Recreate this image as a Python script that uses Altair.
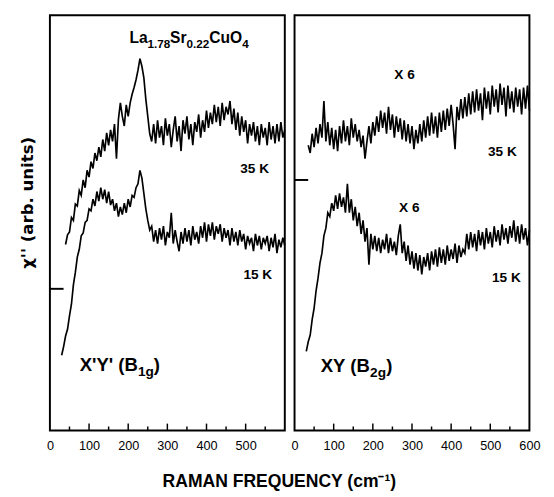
import altair as alt
import pandas as pd

# ---------------- data (arb. units) ----------------
STEP = 5  # cm^-1 sampling of the traced spectra

# X'Y' (B1g) panel
L35_START = 40
L35 = [193, 203, 206, 221, 218, 235, 233, 249, 244, 260, 252, 270, 263,
       279, 272, 288, 280, 294, 284, 302, 290, 309, 296, 312, 300, 318, 282, 323, 340, 326, 316, 338, 326,
       340, 349, 356, 364, 374, 386, 378, 366, 344, 326, 308, 300,
       318, 298, 322, 304, 316, 296, 324, 306, 318, 294, 312, 326, 300, 316, 290, 322, 308, 326, 302, 318,
       296, 320, 310, 328, 304, 322, 310, 332, 314, 330, 318, 338, 320, 336, 316, 340, 322, 336, 328, 342,
       318, 334, 312, 330, 306, 326, 310, 322, 298, 318, 306, 320, 300, 316, 296, 318, 304, 314, 296, 320,
       302, 316, 298, 318, 300, 320, 304, 312]
L15_START = 30
L15 = [78, 87, 98, 105, 119, 131, 151, 164, 180, 188, 202, 205, 216, 218, 230,
       228, 240, 233, 248, 238, 252, 240, 250, 236, 248, 234, 240, 228, 236, 222, 232, 224, 236, 226, 240,
       232, 244, 242, 252, 256, 270,
       262, 246, 230, 218, 208, 212,
       196, 208, 194, 210, 198, 212, 192, 206, 200, 226, 194, 208, 196, 186, 206, 194, 210, 196, 208, 192,
       212, 198, 206, 194, 212, 200, 216, 196, 214, 202, 216, 198, 212, 204, 214, 196, 210, 200, 208, 192,
       210, 196, 206, 192, 208, 196, 204, 188, 202, 194, 200, 186, 204, 192, 202, 188, 200, 194, 202, 186,
       200, 190, 204, 184, 198, 190, 200, 192]

# XY (B2g) panel (x 6)
R35_START = 35
R35 = [296, 288, 308, 294, 314, 298, 318, 304, 342, 300, 320, 296, 314, 292,
       312, 290, 316, 298, 322, 300, 316, 296, 324, 304, 318, 300, 312, 294, 306, 282, 300, 316, 298, 320,
       306, 326, 310, 332, 314, 330, 308, 336, 312, 328, 304, 326, 310, 324, 302, 322, 300, 318, 298, 316,
       292, 312, 298, 318, 300, 322, 304, 326, 306, 330, 308, 326, 304, 330, 310, 332, 312, 334, 316, 338,
       318, 292, 336, 322, 344, 324, 346, 326, 350, 328, 352, 330, 354, 332, 350, 322, 356, 334, 352, 328,
       358, 336, 354, 330, 360, 338, 356, 326, 358, 334, 352, 330, 356, 336, 354, 328, 356, 334, 358, 332]
R15_START = 30
R15 = [82, 92, 99, 115, 127, 145, 158, 174, 184, 202, 210, 226, 222, 236, 228,
       244, 230, 246, 232, 242, 226, 256, 226, 240, 218, 232, 212, 226, 204, 218, 196, 210, 172, 204, 188,
       202, 186, 200, 184, 198, 188, 204, 184, 200, 186, 196, 182, 202, 214, 184, 196, 176, 192, 172, 186,
       168, 184, 166, 182, 162, 180, 170, 184, 166, 186, 172, 188, 170, 190, 174, 188, 172, 192, 176, 188,
       178, 194, 174, 192, 180, 188, 184, 204, 188, 206, 190, 204, 186, 208, 192, 206, 188, 210, 194, 206,
       190, 212, 196, 208, 192, 214, 198, 210, 194, 212, 200, 218, 196, 212, 194, 214, 198, 210, 192, 208]

# axis tick values
LEFT_LABELS = [0, 100, 200, 300, 400, 500]
RIGHT_LABELS = [0, 100, 200, 300, 400, 500, 600]
MAJOR_TICKS = [100, 200, 300, 400, 500]
MINOR_TICKS = [50, 150, 250, 350, 450, 550]

# zero markers on the left edges
LEFT_ZERO = [147]
RIGHT_ZERO = [260]

# annotation pieces (text, frequency, level, font size)
LEFT_PIECES = [
    ("La", 203, 402, 16), ("1.78", 249, 397, 12), ("Sr", 307, 402, 16),
    ("0.22", 349, 397, 12), ("CuO", 407, 402, 16), ("4", 491, 397, 12),
    ("X'Y' (B", 76, 62, 19), ("1g", 225, 56, 14), (")", 265, 62, 19),
]
RIGHT_PIECES = [
    ("XY (B", 67, 61, 19), ("2g", 193, 55, 14), (")", 234, 61, 19),
]
LEFT_LABELS_TXT = [("35 K", 523, 271), ("15 K", 531, 161)]
RIGHT_LABELS_TXT = [("X 6", 281, 369), ("X 6", 293, 231), ("35 K", 531, 289), ("15 K", 541, 158)]

FONT = "Liberation Sans"
W, H = 241, 426


def series_df(start, vals, name):
    return pd.DataFrame({"f": [start + STEP * i for i in range(len(vals))], "h": vals, "s": name})


def panel(lines, zero, pieces, labels, xlabels, ytitle):
    xsc = alt.Scale(domain=[0, 600], nice=False, zero=False)
    ysc = alt.Scale(domain=[0, 431], nice=False, zero=False)
    xax = alt.Axis(values=xlabels, ticks=False, domain=False, grid=False, labelFlush=False,
                   labelOverlap=False, labelFont=FONT, labelFontSize=13, labelColor="black",
                   labelPadding=10, title=None)
    if ytitle:
        yax = alt.Axis(labels=False, ticks=False, domain=False, grid=False, title=ytitle,
                       titleFont="DejaVu Sans", titleFontSize=17, titleFontWeight="bold",
                       titleColor="black", titleAngle=270, titleX=-23, titleY=192,
                       titleAlign="center", titleBaseline="middle")
    else:
        yax = None

    X = alt.X("f:Q", scale=xsc, axis=xax)
    Y = alt.Y("h:Q", scale=ysc, axis=yax)

    line = alt.Chart(lines).mark_line(color="black", strokeWidth=1.7, strokeJoin="miter").encode(
        x=X, y=Y, detail="s:N")
    major = alt.Chart(pd.DataFrame({"f": MAJOR_TICKS})).mark_rule(color="black", strokeWidth=1.5).encode(
        x=X, y=alt.value(H), y2=alt.value(H - 7))
    minor = alt.Chart(pd.DataFrame({"f": MINOR_TICKS})).mark_rule(color="black", strokeWidth=1.5).encode(
        x=X, y=alt.value(H), y2=alt.value(H - 4))
    zrule = alt.Chart(pd.DataFrame({"h": zero})).mark_rule(color="black", strokeWidth=2).encode(
        y=Y, x=alt.value(0), x2=alt.value(14))
    pdf = pd.DataFrame(pieces, columns=["t", "f", "h", "sz"])
    ptxt = alt.Chart(pdf).mark_text(align="left", baseline="alphabetic", font=FONT,
                                    fontWeight="bold", color="black").encode(
        x=X, y=Y, text="t:N", size=alt.Size("sz:Q", scale=None, legend=None))
    ldf = pd.DataFrame(labels, columns=["t", "f", "h"])
    ltxt = alt.Chart(ldf).mark_text(align="center", baseline="middle", font=FONT,
                                    fontWeight="bold", fontSize=14, color="black").encode(
        x=X, y=Y, text="t:N")
    return alt.layer(line, major, minor, zrule, ptxt, ltxt).properties(width=W, height=H)


left_lines = pd.concat([series_df(L35_START, L35, "35 K"), series_df(L15_START, L15, "15 K")])
right_lines = pd.concat([series_df(R35_START, R35, "35 K"), series_df(R15_START, R15, "15 K")])

left = panel(left_lines, LEFT_ZERO, LEFT_PIECES, LEFT_LABELS_TXT, LEFT_LABELS, "χ'' (arb. units)")
right = panel(right_lines, RIGHT_ZERO, RIGHT_PIECES, RIGHT_LABELS_TXT, RIGHT_LABELS, None)

chart = alt.hconcat(left, right, spacing=0).properties(
    title=alt.TitleParams("RAMAN FREQUENCY (cm⁻¹)", orient="bottom", anchor="middle",
                          font=FONT, fontSize=18, fontWeight="bold", color="black", offset=20),
    padding={"left": 10, "top": 0, "right": 5, "bottom": 5},
).configure_view(stroke="black", strokeWidth=2)

chart.save("out.html", embed_options={"renderer": "svg", "actions": False})
